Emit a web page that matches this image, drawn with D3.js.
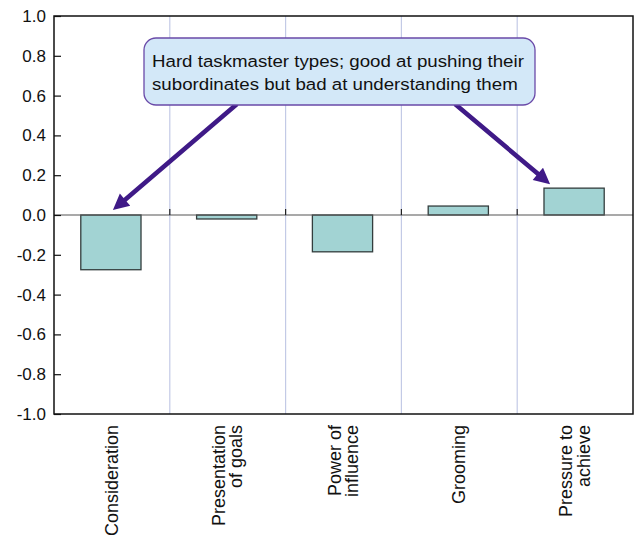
<!DOCTYPE html>
<html>
<head>
<meta charset="utf-8">
<script src="https://cdn.jsdelivr.net/npm/d3@7"></script>
<style>
  html, body { margin: 0; padding: 0; background: #ffffff; }
  svg { display: block; font-family: "Liberation Sans", Arial, sans-serif; }
</style>
</head>
<body>
<svg id="chart" width="636" height="537"></svg>
<script>
// ---- data ----
const categories = ["Consideration", "Presentation of goals", "Power of influence", "Grooming", "Pressure to achieve"];
const labelLines = [["Consideration"], ["Presentation", "of goals"], ["Power of", "influence"], ["Grooming"], ["Pressure to", "achieve"]];
const values = [-0.275, -0.02, -0.185, 0.045, 0.135];
const yTicks = [-1.0, -0.8, -0.6, -0.4, -0.2, 0.0, 0.2, 0.4, 0.6, 0.8, 1.0];
const calloutLines = ["Hard taskmaster types; good at pushing their", "subordinates but bad at understanding them"];

// ---- layout ----
const W = 636, H = 537;
const margin = { left: 54, right: 3, top: 16, bottom: 123 };
const svg = d3.select("#chart");

const x = d3.scaleBand().domain(categories).range([margin.left, W - margin.right]).padding(0);
const y = d3.scaleLinear().domain([-1, 1]).range([H - margin.bottom, margin.top]);
const x0 = margin.left, x1 = W - margin.right, yTop = y(1), yBot = y(-1);

// vertical gridlines at category boundaries
svg.append("g").selectAll("line")
  .data(categories.slice(1))
  .join("line")
  .attr("x1", d => x(d)).attr("x2", d => x(d))
  .attr("y1", yTop).attr("y2", yBot)
  .attr("stroke", "#c3cae6").attr("stroke-width", 1.2);

// bars
const bw = x.bandwidth() * 0.52;
svg.append("g").selectAll("rect")
  .data(values)
  .join("rect")
  .attr("x", (d, i) => x(categories[i]) + x.bandwidth() / 2 - bw / 2 - 1)
  .attr("width", bw)
  .attr("y", d => Math.min(y(d), y(0)))
  .attr("height", d => Math.abs(y(d) - y(0)))
  .attr("fill", "#a2d3d3")
  .attr("stroke", "#333d3d").attr("stroke-width", 1.3);

// zero line + category ticks
svg.append("line")
  .attr("x1", x0).attr("x2", x1).attr("y1", y(0)).attr("y2", y(0))
  .attr("stroke", "#555").attr("stroke-width", 1.2);
svg.append("g").selectAll("line")
  .data(categories.slice(1))
  .join("line")
  .attr("x1", d => x(d)).attr("x2", d => x(d))
  .attr("y1", y(0) - 6).attr("y2", y(0))
  .attr("stroke", "#222").attr("stroke-width", 1.2);

// frame
svg.append("rect")
  .attr("x", x0).attr("y", yTop).attr("width", x1 - x0).attr("height", yBot - yTop)
  .attr("fill", "none").attr("stroke", "#111").attr("stroke-width", 1.5);

// y axis (ticks inward)
const yAxis = d3.axisLeft(y).tickValues(yTicks).tickSize(-7).tickPadding(15)
  .tickFormat(d3.format(".1f"));
const gy = svg.append("g").attr("transform", `translate(${x0},0)`).call(yAxis);
gy.select(".domain").remove();
gy.selectAll(".tick line").attr("stroke", "#111").attr("stroke-width", 1.2);
gy.selectAll(".tick text")
  .attr("x", -8)
  .attr("font-size", 17).attr("fill", "#111")
  .attr("font-family", "'Liberation Sans', Arial, sans-serif")
  .text(d => d3.format(".1f")(d).replace("−", "-"));

// x labels (rotated)
const fsX = 18, lh = 17.5;
const xl = svg.append("g");
labelLines.forEach((lines, i) => {
  const cx = x(categories[i]) + x.bandwidth() / 2;
  const n = lines.length;
  const t = xl.append("text")
    .attr("transform", `translate(${cx},${yBot + 11}) rotate(-90)`)
    .attr("text-anchor", "end")
    .attr("font-size", fsX).attr("fill", "#111");
  lines.forEach((ln, j) => {
    t.append("tspan").attr("x", 0)
      .attr("y", (j - (n - 1) / 2) * lh + 6)
      .text(ln);
  });
});

// arrows (annotation) anchored via scales
const arrowColor = "#3f1a87";
function arrow(xs, ys, xt, yt) {
  const dx = xt - xs, dy = yt - ys, L = Math.hypot(dx, dy);
  const ux = dx / L, uy = dy / L, px = -uy, py = ux;
  const hl = 16, hw = 8, sw = 2.3;
  const bx = xt - ux * hl, by = yt - uy * hl;
  const pts = [
    [xs + px * sw, ys + py * sw],
    [bx + px * sw, by + py * sw],
    [bx + px * hw, by + py * hw],
    [xt, yt],
    [bx - px * hw, by - py * hw],
    [bx - px * sw, by - py * sw],
    [xs - px * sw, ys - py * sw]
  ];
  svg.append("path").attr("d", "M" + pts.map(p => p.join(",")).join("L") + "Z")
    .attr("fill", arrowColor);
}

// callout box
const cb = { x: 144, y: 38, w: 391, h: 67 };
arrow(cb.x + 93, cb.y + cb.h - 1, x(categories[0]) + x.bandwidth() / 2 + 1, y(0.025));
arrow(cb.x + 311, cb.y + cb.h - 1, x(categories[4]) + x.bandwidth() / 2 - 25, y(0.155));

svg.append("rect")
  .attr("x", cb.x).attr("y", cb.y).attr("width", cb.w).attr("height", cb.h)
  .attr("rx", 12).attr("ry", 12)
  .attr("fill", "#d3e8f8").attr("stroke", "#6a4aa8").attr("stroke-width", 1.3);
const ct = svg.append("g").attr("transform", `translate(${cb.x + 8},0) scale(1.1,1)`)
  .append("text").attr("font-size", 17).attr("fill", "#111");
calloutLines.forEach((ln, j) => {
  ct.append("tspan").attr("x", 0).attr("y", cb.y + 29 + j * 23).text(ln);
});
</script>
</body>
</html>
